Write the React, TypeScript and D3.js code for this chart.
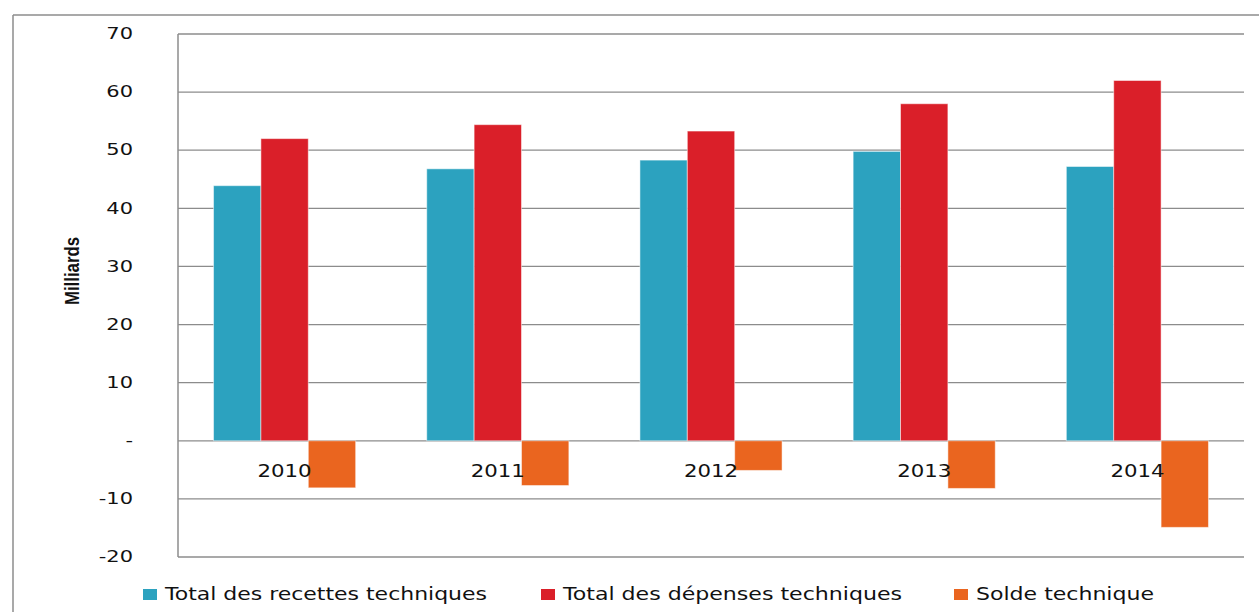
import React from 'react'
import * as d3 from 'd3'

const years = ['2010', '2011', '2012', '2013', '2014']
const recettes = [43.9, 46.8, 48.3, 49.8, 47.2]
const depenses = [52.0, 54.4, 53.3, 58.0, 62.0]
const solde = [-8.1, -7.7, -5.1, -8.2, -14.9]
const seriesNames = ['Total des recettes techniques', 'Total des dépenses techniques', 'Solde technique']
const yTicks = [70, 60, 50, 40, 30, 20, 10, 0, -10, -20]

const colors = ['#2ca2bf', '#da1f29', '#ea651f']
const width = 1259
const height = 612
const plot = { left: 178, right: 1244, top: 34, bottom: 557 }
const legendX = [143, 541, 954]
const legendLen = [322, 339, 178]

const x = d3.scaleBand().domain(years).range([plot.left, plot.right])
const inner = d3.scaleBand().domain(['0', '1', '2']).range([0, x.bandwidth()]).paddingOuter(0.75)
const y = d3.scaleLinear().domain([-20, 70]).range([plot.bottom, plot.top])

const series = [recettes, depenses, solde]
const tickFont = 'DejaVu Sans, Verdana, sans-serif'

export default function App() {
  return (
    <svg width={width} height={height} style={{ position: 'absolute', left: 0, top: 0, background: '#fff' }}>
      {/* outer frame */}
      <line x1={13} x2={width} y1={15} y2={15} stroke="#8c8c8c" strokeWidth={1.5} />
      <line x1={13} x2={13} y1={15} y2={height} stroke="#8c8c8c" strokeWidth={1.5} />

      {yTicks.map(t => (
        <g key={t}>
          <line x1={plot.left} x2={plot.right} y1={y(t)} y2={y(t)} stroke="#8c8c8c" strokeWidth={1.3} />
          <g transform={`translate(133,${y(t)}) scale(1.4,1)`}>
            <text dy="0.35em" textAnchor="end" fontFamily={tickFont} fontSize={15} fill="#111">{t === 0 ? '-' : t}</text>
          </g>
        </g>
      ))}
      <line x1={plot.left} x2={plot.left} y1={plot.top} y2={plot.bottom} stroke="#8c8c8c" strokeWidth={1.5} />

      {years.map((yr, i) => (
        <g key={yr} transform={`translate(${x(yr)},0)`}>
          {series.map((s, k) => {
            const v = s[i]
            return (
              <rect key={k} x={inner(String(k))} width={inner.bandwidth()}
                y={y(Math.max(0, v))} height={Math.abs(y(v) - y(0))}
                fill={colors[k]} stroke="rgba(255,255,255,0.5)" strokeWidth={1} />
            )
          })}
        </g>
      ))}

      {years.map(yr => (
        <g key={yr} transform={`translate(${(x(yr) as number) + x.bandwidth() / 2},${y(0) + 30}) scale(1.25,1)`}>
          <text dy="0.35em" textAnchor="middle" fontFamily={tickFont} fontSize={17} fill="#111">{yr}</text>
        </g>
      ))}

      <text transform="translate(72,271) rotate(-90) scale(0.8,1)" textAnchor="middle" fontFamily="Liberation Sans Narrow, Arial Narrow, sans-serif"
        fontWeight="bold" fontSize={21} fill="#111" dy="0.35em">Milliards</text>

      {seriesNames.map((name, k) => (
        <g key={name} transform={`translate(${legendX[k]},594)`}>
          <rect x={0} y={-5} width={14} height={11} fill={colors[k]} />
          <text x={22} y={0} dy="0.35em" fontFamily={tickFont} fontSize={17} textLength={legendLen[k]}
            lengthAdjust="spacingAndGlyphs" fill="#111">{name}</text>
        </g>
      ))}
    </svg>
  )
}
